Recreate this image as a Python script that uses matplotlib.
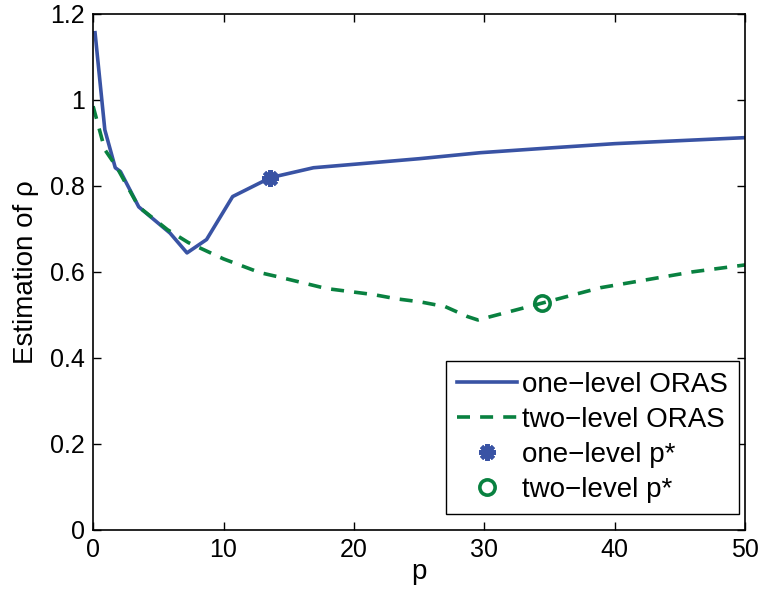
import numpy as np
import matplotlib.pyplot as plt

# one-level ORAS
p_one = [0.15, 0.9, 1.7, 2.1, 3.5, 5.9, 7.2, 8.7, 10.7, 13.6, 16.9, 20, 25, 29.7, 35, 40, 45, 50]
rho_one = [1.156, 0.93, 0.842, 0.833, 0.751, 0.69, 0.644, 0.675, 0.775, 0.819, 0.842, 0.85, 0.863, 0.877, 0.888, 0.898, 0.905, 0.912]

# two-level ORAS
p_two = [0.0, 0.9, 1.8, 3.5, 5.7, 7.3, 10, 12.8, 14.1, 16, 17.9, 19.7, 21.5, 23.3, 25.1, 27, 28.7, 29.5, 34.4, 38.9, 46, 50]
rho_two = [0.985, 0.884, 0.844, 0.751, 0.698, 0.668, 0.63, 0.598, 0.589, 0.575, 0.561, 0.554, 0.547, 0.537, 0.53, 0.519, 0.496, 0.488, 0.527, 0.563, 0.6, 0.616]

pstar_one = (13.6, 0.819)
pstar_two = (34.4, 0.527)

blue = '#3953a4'
green = '#098140'

plt.rcParams['font.family'] = ['Liberation Sans', 'DejaVu Sans']
plt.rcParams['font.size'] = 18

fig = plt.figure(figsize=(7.6, 6), dpi=100)
ax = fig.add_axes([0.1225, 0.117, 0.858, 0.86])

ax.plot(p_one, rho_one, '-', color=blue, lw=2.6, label='one\u2212level ORAS')
ax.plot(p_two, rho_two, '--', color=green, lw=2.6, dashes=(3.6, 2.8), label='two\u2212level ORAS')
ax.plot(*pstar_one, marker=(8, 2, 0), ls='none', color=blue, ms=12, mew=3, label='one\u2212level p*')
ax.plot(*pstar_two, 'o', color=green, mfc='none', ms=11, mew=2.6, label='two\u2212level p*')

ax.set_xlim(0, 50)
ax.set_ylim(0, 1.2)
ax.set_xticks([0, 10, 20, 30, 40, 50])
ax.set_yticks([0, 0.2, 0.4, 0.6, 0.8, 1.0, 1.2])
ax.set_yticklabels(['0', '0.2', '0.4', '0.6', '0.8', '1', '1.2'])
ax.tick_params(direction='in', top=True, right=True, length=6, width=1, pad=6)
for s in ax.spines.values():
    s.set_linewidth(1.2)
ax.set_xlabel('p', fontsize=20, labelpad=-2)
ax.set_ylabel('Estimation of ρ', fontsize=20, labelpad=8)

leg = ax.legend(loc='lower right', bbox_to_anchor=(0.991, 0.03), fontsize=20,
                fancybox=False, edgecolor='black', framealpha=1,
                handlelength=2.15, borderaxespad=0, labelspacing=0.33, handletextpad=0.2,
                borderpad=0.4)
leg.get_frame().set_linewidth(1)

fig.savefig('out.png', dpi=100)
